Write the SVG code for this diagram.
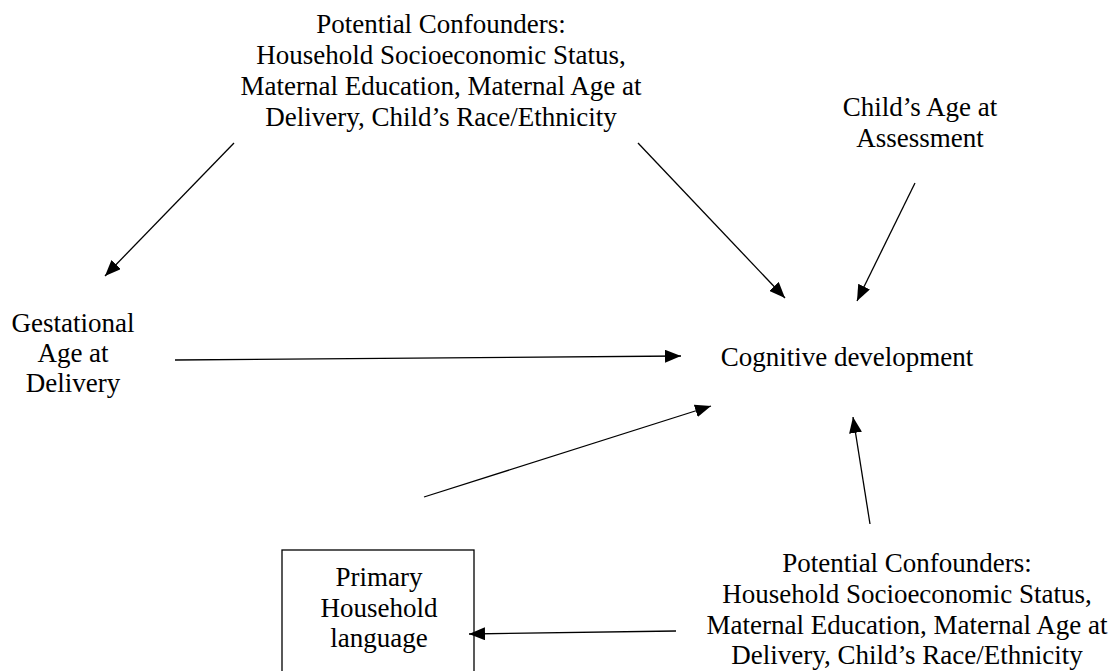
<svg xmlns="http://www.w3.org/2000/svg" width="1116" height="671" viewBox="0 0 1116 671">
<style>
text{font-family:"Liberation Serif","Times New Roman",serif;font-size:27px;fill:#000;text-anchor:middle}
.edge{stroke:#000;stroke-width:1.3;fill:none;marker-end:url(#ah)}
.box{fill:none;stroke:#000;stroke-width:1.3}
</style>
<defs>
<marker id="ah" markerUnits="userSpaceOnUse" markerWidth="17" markerHeight="13" refX="16" refY="6.5" orient="auto">
<path d="M0,0 L16,6.5 L0,13 z" fill="#000"/>
</marker>
</defs>
<rect width="1116" height="671" fill="#fff"/>
<g id="confounders-top">
<text x="441" y="33">Potential Confounders:</text>
<text x="441" y="64">Household Socioeconomic Status,</text>
<text x="441" y="95">Maternal Education, Maternal Age at</text>
<text x="441" y="125.5">Delivery, Child’s Race/Ethnicity</text>
</g>
<g id="child-age">
<text x="920" y="116">Child’s Age at</text>
<text x="920" y="147">Assessment</text>
</g>
<g id="gestational-age">
<text x="73" y="332">Gestational</text>
<text x="73" y="362">Age at</text>
<text x="73" y="392">Delivery</text>
</g>
<g id="cognitive">
<text x="847" y="366">Cognitive development</text>
</g>
<g id="language">
<rect class="box" x="282" y="550" width="192" height="130"/>
<text x="379" y="586">Primary</text>
<text x="379" y="617">Household</text>
<text x="379" y="647">language</text>
</g>
<g id="confounders-bottom">
<text x="907" y="572">Potential Confounders:</text>
<text x="907" y="603">Household Socioeconomic Status,</text>
<text x="907" y="633.5">Maternal Education, Maternal Age at</text>
<text x="907" y="664">Delivery, Child’s Race/Ethnicity</text>
</g>
<g id="connectors">
<line class="edge" x1="234" y1="143" x2="105" y2="276"/>
<line class="edge" x1="638" y1="143" x2="785" y2="298"/>
<line class="edge" x1="915" y1="183" x2="857" y2="301"/>
<line class="edge" x1="175" y1="360" x2="681" y2="356"/>
<line class="edge" x1="424" y1="497" x2="711" y2="406"/>
<line class="edge" x1="870" y1="524" x2="853" y2="417"/>
<line class="edge" x1="676" y1="631" x2="469" y2="634"/>
</g>
</svg>
